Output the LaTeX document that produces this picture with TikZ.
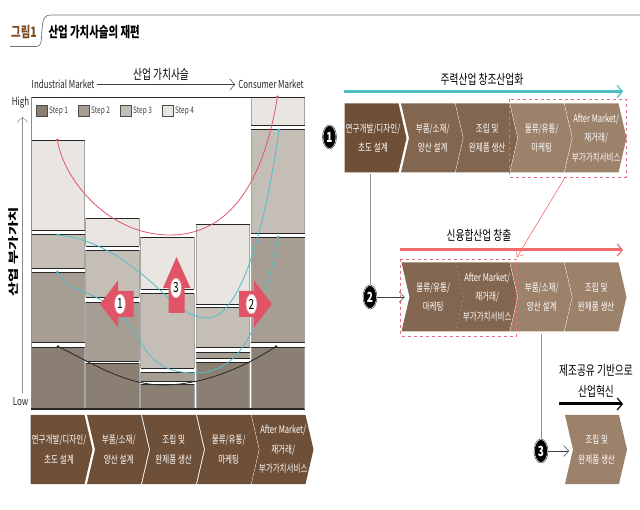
\documentclass[tikz,border=0pt]{standalone}
\usepackage{fontspec}
\setmainfont[FakeStretch=0.72]{Noto Sans CJK KR}
\usetikzlibrary{arrows.meta,shapes.geometric}
\definecolor{stepA}{HTML}{8A7F72}
\definecolor{stepB}{HTML}{A79E93}
\definecolor{stepC}{HTML}{C5BEB6}
\definecolor{stepD}{HTML}{E9E6E2}
\definecolor{chevDark}{HTML}{6E4F37}
\definecolor{chevMid}{HTML}{836650}
\definecolor{chevLight}{HTML}{9D826B}
\definecolor{tealLine}{HTML}{4FBFC8}
\definecolor{redLine}{HTML}{E0566C}
\definecolor{coralLine}{HTML}{F26C6C}
\definecolor{pinkArrow}{HTML}{E05468}
\definecolor{titleBrown}{HTML}{7A4A1E}
\tikzset{
  chevtext/.style={text=white,align=center,font=\fontsize{10.5}{19.5}\selectfont},
  legendtext/.style={anchor=west,font=\fontsize{9}{10}\selectfont,text=black!75},
  plain/.style={text=black!85,font=\fontsize{11}{13}\selectfont},
  head/.style={text=black,align=center,font=\fontsize{13.5}{21}\selectfont},
  swatch/.style={draw=black!70,line width=.6pt},
  blockedge/.style={draw=black!85,line width=.8pt},
  blockside/.style={draw=black!35,line width=.8pt},
  curveline/.style={line width=.8pt},
  mainarrow/.style={line width=3pt,-{Straight Barb[length=5pt,width=12pt,line width=1.2pt]}},
  thinarrow/.style={line width=.6pt,draw=black!75,-{Straight Barb[length=5pt,width=11pt,line width=.5pt]}},
  stem/.style={line width=1pt,draw=black!45},
  dashbox/.style={draw=redLine!85,dashed,line width=.7pt},
  blockarrow/.style={fill=pinkArrow,draw=none},
  ringnum/.style={ellipse,fill=white,draw=pinkArrow!70,line width=.6pt,inner sep=0pt,minimum width=11pt,minimum height=20pt,font=\fontsize{14}{15}\selectfont,text=black},
  darknum/.style={ellipse,fill=black,draw=black,double=white,double distance=.5pt,inner sep=0pt,minimum width=13pt,minimum height=23pt,font=\bfseries\fontsize{14}{15}\selectfont,text=white}
}
% [notch]{name}{x}{y}{colour}{text}
\newcommand{\chevbox}[6][8]{
  \fill [color=#5] (#3,#4) -- ++(54,0) -- ++(8,34.5) -- ++(-8,34.5) -- ++(-54,0) -- ++(#1,-34.5) -- cycle;
  \node [chevtext] (#2) at ({#3+28.5+#1*.4},{#4+34.5}) {#6};
}
% {x}{top}{bottom}{colour}
\newcommand{\valblock}[4]{
  \fill [color=#4] (#1,#2) rectangle ++(53.5,{#3-#2});
  \draw [blockside] (#1,#2) -- (#1,#3) (#1+53.5,#2) -- (#1+53.5,#3);
  \draw [blockedge] (#1,#2) -- ++(53.5,0) (#1,#3) -- ++(53.5,0);
}
\begin{document}
\begin{tikzpicture}[x=1pt,y=-1pt]
  \useasboundingbox (0,0) rectangle (640,510);
  \fill [white] (0,0) rectangle (640,510);

  % heading
  \draw [line width=.7pt,draw=black!55] (10,46.5) -- (36,46.5) .. controls (42,46.5) and (41,42) .. (42,30) .. controls (43,18) and (44,15) .. (52,15) -- (640,15);
  \node [text=titleBrown,font=\bfseries\fontsize{14.5}{16}\selectfont] (tag) at (24,32) {그림1};
  \node [anchor=west,text=black,font=\bfseries\fontsize{14.5}{16}\selectfont] (title) at (45,32) {산업 가치사슬의 재편};

  % value blocks
  \valblock{31}{140.5}{230}{stepD}
  \valblock{31}{234.5}{268}{stepC}
  \valblock{31}{272}{342}{stepB}
  \valblock{31}{347}{409}{stepA}

  \valblock{85.5}{218}{246.5}{stepD}
  \valblock{85.5}{250}{297}{stepC}
  \valblock{85.5}{302}{361}{stepB}
  \valblock{85.5}{363}{409}{stepA}

  \valblock{140.5}{237}{289}{stepD}
  \valblock{140.5}{293}{368}{stepC}
  \valblock{140.5}{372}{381}{stepB}
  \valblock{140.5}{384}{409}{stepA}

  \valblock{196}{224.5}{304}{stepD}
  \valblock{196}{307}{347}{stepC}
  \valblock{196}{352}{358}{stepB}
  \valblock{196}{362}{409}{stepA}

  \valblock{251}{97}{125.5}{stepD}
  \valblock{251}{129.5}{233}{stepC}
  \valblock{251}{237.5}{342}{stepB}
  \valblock{251}{347}{409}{stepA}

  \draw [line width=.8pt,draw=black!85] (31,97) -- (304,97);
  \draw [line width=.8pt,draw=black!45] (31,97) -- (31,409);
  \draw [line width=1.5pt,draw=black!85] (31,409) -- (304,409);

  % legend
  \fill [color=stepA] (36,105.5) rectangle (47,116.5);
  \draw [swatch] (36,105.5) rectangle (47,116.5);
  \fill [color=stepB] (78,105.5) rectangle (89,116.5);
  \draw [swatch] (78,105.5) rectangle (89,116.5);
  \fill [color=stepC] (120,105.5) rectangle (131,116.5);
  \draw [swatch] (120,105.5) rectangle (131,116.5);
  \fill [color=stepD] (162,105.5) rectangle (173,116.5);
  \draw [swatch] (162,105.5) rectangle (173,116.5);
  \node [legendtext,inner xsep=1pt] (stepa) at (48,111) {Step 1};
  \node [legendtext,inner xsep=1pt] (stepb) at (90,111) {Step 2};
  \node [legendtext,inner xsep=1pt] (stepc) at (132,111) {Step 3};
  \node [legendtext,inner xsep=1pt] (stepd) at (174,111) {Step 4};

  % curves
  \draw [curveline,color=redLine] (57.5,140) .. controls (62,175) and (105,235) .. (170,235) .. controls (225,235) and (262,190) .. (277.5,97);
  \draw [curveline,color=tealLine] (58,235) .. controls (90,238) and (125,255) .. (168,298) .. controls (185,312) and (195,318) .. (207,318) .. controls (240,318) and (265,230) .. (279,130);
  \draw [curveline,color=tealLine] (57.5,272) .. controls (64,288) and (80,288) .. (101,300) .. controls (112,306) and (115,310) .. (123,318) .. controls (145,340) and (145,373) .. (195,373) .. controls (245,373) and (262,320) .. (278,237);
  \draw [curveline,color=black!85] (58,346.5) .. controls (90,362) and (125,385) .. (163,385) .. controls (200,385) and (240,370) .. (276,346.5);
  \fill [color=redLine] (57.5,140) circle (1.5) (277.5,97) circle (1.5);
  \fill [color=tealLine] (58,235) circle (1.5) (279,130) circle (1.5) (57.5,272) circle (1.5) (278,237) circle (1.5);
  \fill [color=black!85] (58,346.5) circle (1.3) (276,346.5) circle (1.3);

  % block arrows
  \fill [blockarrow] (100,304) -- (118,280.5) -- (118,291) -- (133.5,291) -- (133.5,317) -- (118,317) -- (118,327.5) -- cycle;
  \fill [blockarrow] (272,304) -- (254,280.5) -- (254,291) -- (239,291) -- (239,317) -- (254,317) -- (254,327.5) -- cycle;
  \fill [blockarrow] (176.5,257) -- (190.5,288) -- (184.5,288) -- (184.5,313) -- (168.5,313) -- (168.5,288) -- (163,288) -- cycle;
  \node [ringnum] (numa) at (120,304) {1};
  \node [ringnum] (numb) at (251.5,304) {2};
  \node [ringnum] (numc) at (176,288) {3};

  % axis and market labels
  \node [plain,inner sep=0pt] (high) at (20.5,103) {High};
  \node [plain,inner sep=0pt] (low) at (20.5,402) {Low};
  \coordinate (axisfoot) at (22.5,393);
  \coordinate (axistip) at (22.5,117);
  \draw [thinarrow,draw=black!45] (axisfoot) -- (axistip);
  \node [rotate=90,text=black,font=\bfseries\fontsize{10.5}{12}\selectfont] (axis) at (14,252) {\scalebox{2.05}[1]{산업 부가가치}};
  \node [plain,inner sep=0pt] (indus) at (63,84.5) {Industrial Market};
  \node [plain,inner sep=0pt] (cons) at (271,84.5) {Consumer Market};
  \draw [thinarrow] ([xshift=-2pt]indus.east) ++(5pt,0) -- ([xshift=-3pt]cons.west);
  \node [head] (chain) at (161,74) {산업 가치사슬};

  % bottom row
  \chevbox[0]{baseA}{30.5}{415}{chevDark}{연구개발/디자인/\\초도 설계}
  \chevbox{baseB}{87}{415}{chevDark}{부품/소재/\\양산 설계}
  \chevbox{baseC}{142}{415}{chevDark}{조립 및\\완제품 생산}
  \chevbox{baseD}{197}{415}{chevDark}{물류/유통/\\마케팅}
  \chevbox{baseE}{251.5}{415}{chevDark}{After Market/\\재거래/\\부가가치서비스}

  % first row
  \node [head] (mainhead) at (482,79) {주력산업 창조산업화};
  \coordinate (tealstart) at (344,91.5);
  \coordinate (tealend) at (623,91.5);
  \draw [mainarrow,color=tealLine] (tealstart) -- (tealend);
  \chevbox[0]{rowaA}{344.5}{103.5}{chevDark}{연구개발/디자인/\\초도 설계}
  \chevbox{rowaB}{401}{103.5}{chevMid}{부품/소재/\\양산 설계}
  \chevbox{rowaC}{455.5}{103.5}{chevMid}{조립 및\\완제품 생산}
  \chevbox{rowaD}{510}{103.5}{chevLight}{물류/유통/\\마케팅}
  \chevbox{rowaE}{564.5}{103.5}{chevLight}{After Market/\\재거래/\\부가가치서비스}
  \draw [dashbox] (509.5,99.5) rectangle (626,177);
  \node [darknum] (mark) at (329.5,137) {1};

  % second row
  \node [head] (fusehead) at (479,235) {신융합산업 창출};
  \coordinate (corstart) at (400,250);
  \coordinate (corend) at (623,250);
  \draw [mainarrow,color=coralLine] (corstart) -- (corend);
  \chevbox{rowbA}{401.5}{262.5}{chevMid}{물류/유통/\\마케팅}
  \chevbox{rowbB}{455.5}{262.5}{chevMid}{After Market/\\재거래/\\부가가치서비스}
  \chevbox{rowbC}{510}{262.5}{chevLight}{부품/소재/\\양산 설계}
  \chevbox{rowbD}{564.5}{262.5}{chevLight}{조립 및\\완제품 생산}
  \draw [dashbox] (400.5,259.5) rectangle (516.5,336.5);
  \coordinate (dropfrom) at (565,177.5);
  \coordinate (dropto) at (517,257);
  \draw [line width=.6pt,draw=coralLine,-{Straight Barb[length=5pt,width=9pt,line width=.5pt]}] (dropfrom) -- (dropto);

  % third row
  \node [head] (makehead) at (596,381) {제조공유 기반으로\\산업혁신};
  \coordinate (blkstart) at (559,404);
  \coordinate (blkend) at (623,404);
  \draw [mainarrow,color=black] (blkstart) -- (blkend);
  \chevbox{rowcA}{565}{415}{chevLight}{조립 및\\완제품 생산}

  % connectors
  \coordinate (stema) at (370,174);
  \coordinate (stemb) at (541,334);
  \coordinate (entrya) at (404.5,297);
  \coordinate (entryb) at (569,451);
  \node [darknum] (markb) at (370,297) {2};
  \node [darknum] (markc) at (541,451) {3};
  \draw [stem] (stema) -- (markb);
  \draw [stem] (stemb) -- (markc);
  \draw [thinarrow] (markb) -- (entrya);
  \draw [thinarrow] (markc) -- (entryb);
\end{tikzpicture}
\end{document}
